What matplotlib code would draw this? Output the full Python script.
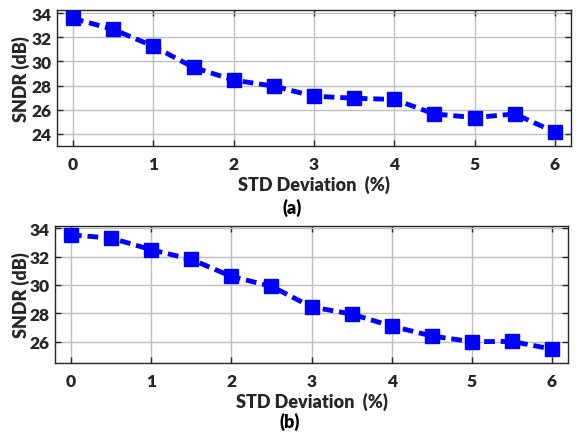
import matplotlib.pyplot as plt
import numpy as np

plt.rcParams['font.family'] = ['Lato', 'DejaVu Sans']
plt.rcParams['font.weight'] = 'bold'

# Data
std_dev = [0, 0.5, 1, 1.5, 2, 2.5, 3, 3.5, 4, 4.5, 5, 5.5, 6]
sndr_a = [33.55, 32.65, 31.25, 29.5, 28.45, 27.95, 27.12, 26.95, 26.85, 25.65, 25.35, 25.65, 24.15]
sndr_b = [33.52, 33.3, 32.48, 31.8, 30.6, 29.9, 28.45, 27.95, 27.1, 26.4, 26.0, 26.02, 25.48]
x_ticks = [0, 1, 2, 3, 4, 5, 6]

fig = plt.figure(figsize=(5.76, 4.39), dpi=100, facecolor='white')
ax_a = fig.add_axes([57 / 576, 1 - 147 / 439, 514 / 576, 136 / 439])
ax_b = fig.add_axes([55 / 576, 1 - 364 / 439, 513 / 576, 137 / 439])

panels = [
    (ax_a, sndr_a, [24, 26, 28, 30, 32, 34], (23.0, 34.25), '(a)', -0.45, -27 / 514),
    (ax_b, sndr_b, [26, 28, 30, 32, 34], (24.5, 34.15), '(b)', -0.42, -25 / 513),
]

for ax, vals, yt, ylim, tag, ty, ylx in panels:
    ax.plot(std_dev, vals, color='#0000FF', linestyle='--', linewidth=3.5,
            dashes=(2.2, 1.2), marker='s', markersize=10, zorder=3)
    ax.set_xlim(-0.2, 6.2)
    ax.set_ylim(*ylim)
    ax.set_xticks(x_ticks)
    ax.set_yticks(yt)
    ax.grid(True, color='#BEBEBE', linewidth=1.0)
    ax.tick_params(direction='in', top=True, right=True, labelsize=12.5,
                   length=4, width=1, colors='#262626', pad=4)
    ax.tick_params(axis='x', pad=7)
    for lbl in ax.get_xticklabels() + ax.get_yticklabels():
        lbl.set_fontweight('heavy')
    for s in ax.spines.values():
        s.set_color('#262626')
        s.set_linewidth(1.0)
    ax.set_xlabel('STD Deviation  (%)', fontsize=13, fontweight='heavy',
                  color='#262626', labelpad=2)
    ax.set_ylabel('SNDR (dB)', fontsize=13, fontweight='heavy',
                  color='#262626')
    ax.yaxis.set_label_coords(ylx, 0.5)
    ax.text((292 - 57) / 514, ty, tag, transform=ax.transAxes, fontsize=13,
            fontweight='heavy', ha='center', va='center', color='black')

plt.savefig('out.png', dpi=100, facecolor='white')
